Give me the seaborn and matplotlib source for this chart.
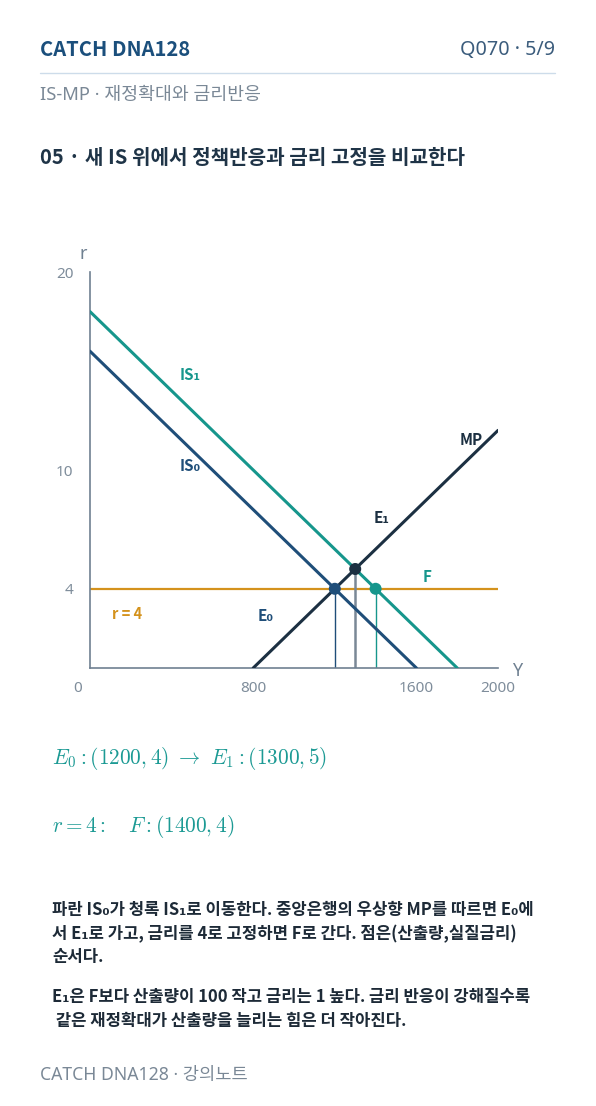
import numpy as np
import pandas as pd
import matplotlib
matplotlib.use("Agg")
import matplotlib.pyplot as plt
import seaborn as sns

# ---- data ----
is0_Y = [0, 1600]
is0_r = [16, 0]
is1_Y = [0, 1800]
is1_r = [18, 0]
mp_Y = [800, 2000]
mp_r = [0, 12]
fix_Y = [0, 2000]
fix_r = [4, 4]
pt_names = ["E0", "E1", "F"]
pt_Y = [1200, 1300, 1400]
pt_r = [4, 5, 4]
xticks = [800, 1600, 2000]
yticks = [4, 10, 20]

sns.set_theme(style="white")
FONT_R = ["Noto Sans", "Noto Sans CJK KR", "DejaVu Sans"]
FONT_B = ["Noto Sans CJK KR", "DejaVu Sans"]
plt.rcParams["font.family"] = FONT_R
plt.rcParams["mathtext.fontset"] = "cm"

C_NAVY = "#1f4e79"
C_TEAL = "#16968c"
C_DARK = "#1c3042"
C_ORANGE = "#d4921c"
C_AXIS = "#6f8091"
C_TICK = "#7f8d9b"

W, H = 596, 1106
fig = plt.figure(figsize=(W / 100, H / 100), dpi=100)
fig.patch.set_facecolor("white")

def fy(py):
    return 1 - py / H

def fx(px):
    return px / W

ax = fig.add_axes([fx(90), fy(668), fx(498) - fx(90), (668 - 272) / H])
ax.set_xlim(0, 2000)
ax.set_ylim(0, 20)

lines = pd.concat([
    pd.DataFrame({"Y": is0_Y, "r": is0_r, "s": "IS0"}),
    pd.DataFrame({"Y": is1_Y, "r": is1_r, "s": "IS1"}),
    pd.DataFrame({"Y": mp_Y, "r": mp_r, "s": "MP"}),
])
sns.lineplot(data=lines, x="Y", y="r", hue="s",
             palette={"IS0": C_NAVY, "IS1": C_TEAL, "MP": C_DARK},
             lw=2.2, legend=False, ax=ax, sort=False, zorder=3)
sns.lineplot(x=fix_Y, y=fix_r, color=C_ORANGE, lw=1.6, ax=ax, zorder=2)

# guide verticals
vcols = [C_NAVY, "#7a8896", C_TEAL]
vlw = [1.0, 1.8, 1.0]
for Yv, rv, c, w in zip(pt_Y, pt_r, vcols, vlw):
    ax.vlines(Yv, 0, rv, color=c, lw=w, zorder=2)

pts = pd.DataFrame({"Y": pt_Y, "r": pt_r, "n": pt_names})
sns.scatterplot(data=pts, x="Y", y="r", hue="n",
                palette={"E0": C_NAVY, "E1": C_DARK, "F": C_TEAL},
                s=75, edgecolor="none", legend=False, ax=ax, zorder=5)

# axes styling
for sp in ["top", "right"]:
    ax.spines[sp].set_visible(False)
for sp in ["left", "bottom"]:
    ax.spines[sp].set_color(C_AXIS)
    ax.spines[sp].set_linewidth(1.2)
ax.set_xticks(xticks)
ax.set_yticks(yticks)
ax.set_xticklabels([str(v) for v in xticks])
ax.set_yticklabels([str(v) for v in yticks])
ax.tick_params(axis="x", direction="inout", length=8, width=1.2, color=C_AXIS,
               labelcolor=C_TICK, labelsize=11, pad=5)
ax.tick_params(axis="y", direction="out", length=6, width=1.2, color=C_AXIS,
               labelcolor=C_TICK, labelsize=11, pad=6)
ax.set_xlabel("")
ax.set_ylabel("")
ax.text(-60, -1.05, "0", ha="center", va="center", color=C_TICK, fontsize=11)
ax.text(-35, 20.9, "r", ha="center", va="center", color=C_AXIS, fontsize=13)
ax.text(2095, -0.15, "Y", ha="center", va="center", color=C_AXIS, fontsize=13)

# curve labels
kw = dict(fontsize=11, ha="left", va="center", fontweight="bold", family=FONT_B)
ax.text(440, 14.8, "IS₁", color=C_TEAL, **kw)
ax.text(440, 10.2, "IS₀", color=C_NAVY, **kw)
ax.text(1810, 11.5, "MP", color=C_DARK, **kw)
ax.text(1390, 7.6, "E₁", color=C_DARK, **kw)
ax.text(1630, 4.6, "F", color=C_TEAL, **kw)
ax.text(820, 2.65, "E₀", color=C_NAVY, **kw)
ax.text(110, 2.75, "r = 4", color=C_ORANGE, fontsize=10.5, ha="left", va="center",
        fontweight="bold", family=FONT_B)

# header
fig.text(fx(40), fy(50), "CATCH DNA128", color="#1b4f7c", fontsize=14.5, fontweight="bold",
         ha="left", va="center", family=FONT_B)
fig.text(fx(555), fy(50), "Q070 · 5/9", color="#3b5c7c", fontsize=14.2, ha="right", va="center")
fig.add_artist(plt.Line2D([fx(40), fx(555)], [fy(73), fy(73)], color="#cddcea", lw=1.0))
fig.text(fx(40), fy(95), "IS-MP · 재정확대와 금리반응", color="#7a8896", fontsize=13.2,
         ha="left", va="center", fontweight="light")
fig.text(fx(40), fy(158), "05 · 새 IS 위에서 정책반응과 금리 고정을 비교한다", color="#1f3447",
         fontsize=14.5, fontweight="bold", ha="left", va="center", family=FONT_B)

# formulas
fig.text(fx(52), fy(758), r"$E_0:(1200,4)\ \rightarrow\ E_1:(1300,5)$", color="#1c9a94",
         fontsize=15.3, ha="left", va="center")
fig.text(fx(52), fy(827), r"$r=4:\quad F:(1400,4)$", color="#1c9a94",
         fontsize=15.3, ha="left", va="center")

# paragraphs
para = [
    (910, "파란 IS₀가 청록 IS₁로 이동한다. 중앙은행의 우상향 MP를 따르면 E₀에"),
    (934, "서 E₁로 가고, 금리를 4로 고정하면 F로 간다. 점은(산출량,실질금리)"),
    (957, "순서다."),
    (997, "E₁은 F보다 산출량이 100 작고 금리는 1 높다. 금리 반응이 강해질수록"),
    (1021, " 같은 재정확대가 산출량을 늘리는 힘은 더 작아진다."),
]
for py, t in para:
    fig.text(fx(52), fy(py), t, color="#1d2a37", fontsize=12, fontweight="bold",
             ha="left", va="center", family=FONT_B)

fig.text(fx(40), fy(1075), "CATCH DNA128 · 강의노트", color="#7a8896", fontsize=12.7,
         ha="left", va="center", fontweight="light")

fig.savefig("out.png", dpi=100, facecolor="white")
